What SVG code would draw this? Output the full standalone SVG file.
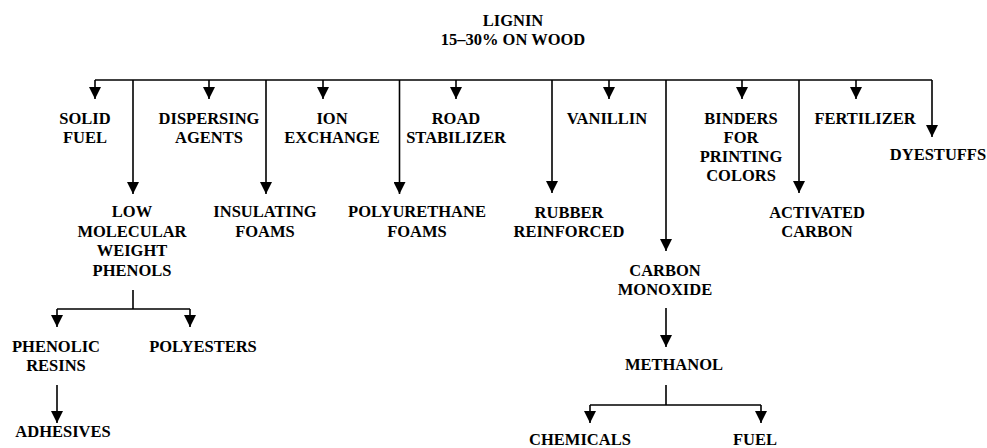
<svg xmlns="http://www.w3.org/2000/svg" width="987" height="448" viewBox="0 0 987 448">
<style>
.t text{font-weight:bold;font-size:16.5px;fill:#000;text-anchor:middle}
.c{stroke:#000;stroke-width:1.6;fill:none}
.a{marker-end:url(#ah)}
</style>
<defs>
<marker id="ah" viewBox="0 0 12 12" markerWidth="12" markerHeight="12" refX="12" refY="6" orient="auto" markerUnits="userSpaceOnUse">
<path d="M0,0 L12,6 L0,12 z" fill="#000"/>
</marker>
</defs>
<rect width="987" height="448" fill="#fff"/>
<g id="connectors">
<path class="c" d="M95,80 H932"/>
<path class="c a" d="M95,80 V99"/>
<path class="c a" d="M209,80 V99"/>
<path class="c a" d="M323,80 V99"/>
<path class="c a" d="M456,80 V99"/>
<path class="c a" d="M609,80 V99"/>
<path class="c a" d="M742,80 V99"/>
<path class="c a" d="M856,80 V99"/>
<path class="c a" d="M133,80 V194"/>
<path class="c a" d="M266,80 V194"/>
<path class="c a" d="M399.5,80 V194"/>
<path class="c a" d="M552,80 V193"/>
<path class="c a" d="M799,80 V193"/>
<path class="c a" d="M666,80 V251"/>
<path class="c a" d="M932,80 V137"/>
<path class="c" d="M133,290 V309 M57,309 H190"/>
<path class="c a" d="M57,309 V327"/>
<path class="c a" d="M190,309 V327"/>
<path class="c a" d="M57,385 V423"/>
<path class="c a" d="M666,308 V347"/>
<path class="c" d="M666,385 V405 M590,405 H761"/>
<path class="c a" d="M590,405 V423"/>
<path class="c a" d="M761,405 V423"/>
</g>
<g class="t" font-family="'Liberation Serif', 'Times New Roman', Times, serif">
<g id="lignin"><text x="513" y="26">LIGNIN</text><text x="513" y="45">15–30% ON WOOD</text></g>
<g id="solid-fuel"><text x="85" y="124">SOLID</text><text x="85" y="143">FUEL</text></g>
<g id="dispersing-agents"><text x="209" y="124">DISPERSING</text><text x="209" y="143">AGENTS</text></g>
<g id="ion-exchange"><text x="332" y="124">ION</text><text x="332" y="143">EXCHANGE</text></g>
<g id="road-stabilizer"><text x="456" y="124">ROAD</text><text x="456" y="143">STABILIZER</text></g>
<g id="vanillin"><text x="607" y="124">VANILLIN</text></g>
<g id="binders"><text x="741" y="124">BINDERS</text><text x="741" y="143">FOR</text><text x="741" y="162">PRINTING</text><text x="741" y="181">COLORS</text></g>
<g id="fertilizer"><text x="865" y="124">FERTILIZER</text></g>
<g id="dyestuffs"><text x="938" y="160">DYESTUFFS</text></g>
<g id="phenols"><text x="132" y="217">LOW</text><text x="132" y="237">MOLECULAR</text><text x="132" y="256">WEIGHT</text><text x="132" y="276">PHENOLS</text></g>
<g id="insulating-foams"><text x="265" y="217">INSULATING</text><text x="265" y="237">FOAMS</text></g>
<g id="polyurethane-foams"><text x="417" y="217">POLYURETHANE</text><text x="417" y="237">FOAMS</text></g>
<g id="rubber"><text x="569" y="218">RUBBER</text><text x="569" y="237">REINFORCED</text></g>
<g id="activated-carbon"><text x="817" y="218">ACTIVATED</text><text x="817" y="237">CARBON</text></g>
<g id="carbon-monoxide"><text x="665" y="276">CARBON</text><text x="665" y="295">MONOXIDE</text></g>
<g id="phenolic-resins"><text x="56" y="352">PHENOLIC</text><text x="56" y="371">RESINS</text></g>
<g id="polyesters"><text x="203" y="352">POLYESTERS</text></g>
<g id="adhesives"><text x="63" y="437">ADHESIVES</text></g>
<g id="methanol"><text x="674" y="370">METHANOL</text></g>
<g id="chemicals"><text x="580" y="445">CHEMICALS</text></g>
<g id="fuel"><text x="755" y="445">FUEL</text></g>
</g>
</svg>
